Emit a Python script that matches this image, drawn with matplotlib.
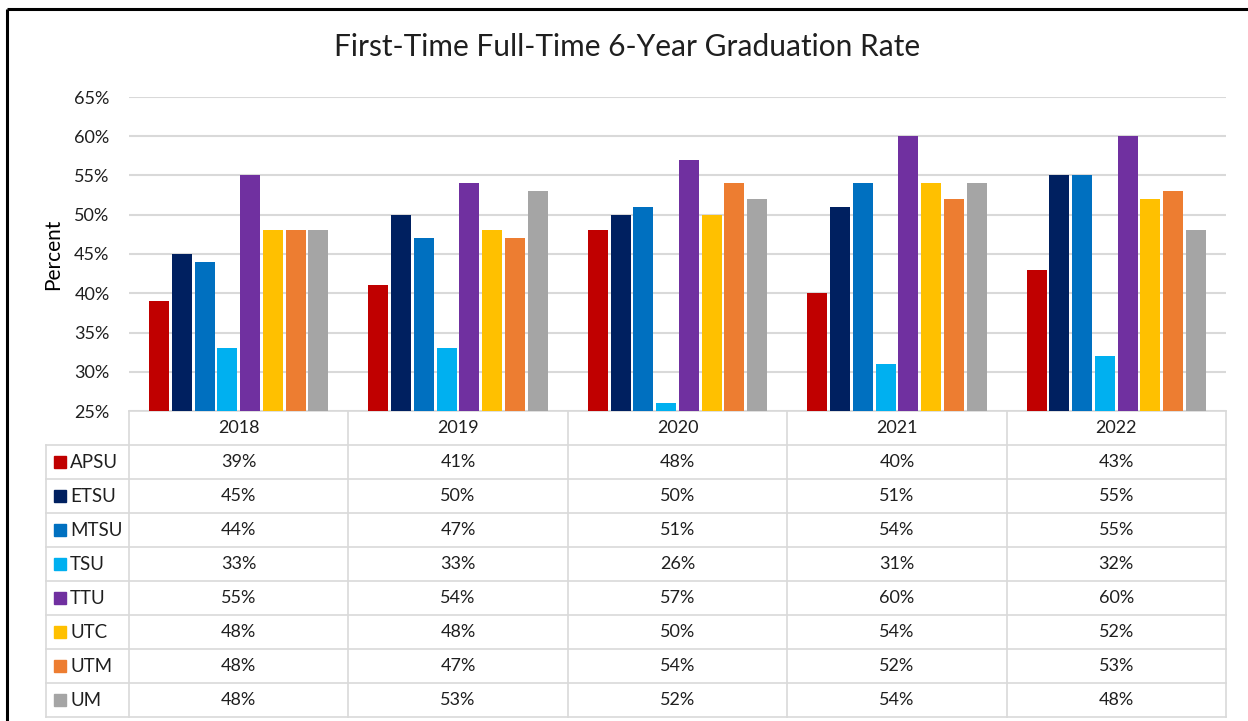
import matplotlib
matplotlib.use("Agg")
import matplotlib.pyplot as plt
import numpy as np

# ---------------- data ----------------
years = ['2018', '2019', '2020', '2021', '2022']
schools = ['APSU', 'ETSU', 'MTSU', 'TSU', 'TTU', 'UTC', 'UTM', 'UM']
apsu = [39, 41, 48, 40, 43]
etsu = [45, 50, 50, 51, 55]
mtsu = [44, 47, 51, 54, 55]
tsu = [33, 33, 26, 31, 32]
ttu = [55, 54, 57, 60, 60]
utc = [48, 48, 50, 54, 52]
utm = [48, 47, 54, 52, 53]
um = [48, 53, 52, 54, 48]
series = [apsu, etsu, mtsu, tsu, ttu, utc, utm, um]
colors = ['#C00000', '#002060', '#0070C0', '#00B0F0', '#7030A0',
          '#FFC000', '#ED7D31', '#A5A5A5']
yticks = [25, 30, 35, 40, 45, 50, 55, 60, 65]
title = 'First-Time Full-Time 6-Year Graduation Rate'

# ---------------- layout ----------------
plt.rcParams['font.family'] = ['Lato', 'DejaVu Sans']
W, H = 1248, 721
fig = plt.figure(figsize=(W / 100, H / 100), dpi=100)
fig.patch.set_facecolor('white')


def fx(x):
    return x / W


def fy(y):
    return 1 - y / H


grid_c = '#D9D9D9'
text_c = '#1F1F1F'

# overlay in pixel coordinates for frame and table
ov = fig.add_axes([0, 0, 1, 1])
ov.set_xlim(0, W)
ov.set_ylim(H, 0)
ov.axis('off')

# main chart axes
x_left, x_right, y_top, y_bot = 129, 1226, 97, 411
ax = fig.add_axes([fx(x_left), fy(y_bot), fx(x_right) - fx(x_left), fy(y_top) - fy(y_bot)])
ax.patch.set_alpha(0)
n = len(schools)
slot = 0.1037
bw = 0.091
x = np.arange(len(years))
for i, (vals, c) in enumerate(zip(series, colors)):
    ax.bar(x + (i - (n - 1) / 2) * slot, vals, width=bw, color=c, zorder=3,
           edgecolor='none')
ax.set_xlim(-0.5, len(years) - 0.5)
ax.set_ylim(yticks[0], yticks[-1])
ax.set_yticks(yticks)
ax.set_yticklabels([f'{t}%' for t in yticks], fontsize=13, color=text_c)
ax.tick_params(axis='y', length=0, pad=14)
ax.set_xticks([])
ax.grid(axis='y', color=grid_c, linewidth=1.5, zorder=0)
for s in ax.spines.values():
    s.set_visible(False)
ax.set_ylabel('Percent', fontsize=15, color='black', labelpad=8)

# title
fig.text(fx(627), fy(47), title, ha='center', va='center', fontsize=21.5, color=text_c)

# outer frame (top and left)
ov.plot([7, W], [9, 9], color='black', lw=2.2, solid_capstyle='butt')
ov.plot([7, 7], [9, H], color='black', lw=2.2, solid_capstyle='butt')

# data table
col_edges = np.linspace(x_left, x_right, len(years) + 1)
row_h = 34
hdr_top = y_bot
hdr_bot = hdr_top + row_h
tab_left = 46
rows_y = [hdr_bot + k * row_h for k in range(n + 1)]
lw_t = 1.2
ov.plot([x_left, x_right], [hdr_top, hdr_top], color=grid_c, lw=lw_t)
for yy in rows_y:
    ov.plot([tab_left, x_right], [yy, yy], color=grid_c, lw=lw_t)
ov.plot([tab_left, tab_left], [hdr_bot, rows_y[-1]], color=grid_c, lw=lw_t)
for xe in col_edges:
    ov.plot([xe, xe], [hdr_top, rows_y[-1]], color=grid_c, lw=lw_t)

centers = (col_edges[:-1] + col_edges[1:]) / 2
for j, yr in enumerate(years):
    ov.text(centers[j], (hdr_top + hdr_bot) / 2, yr, ha='center', va='center',
            fontsize=13, color=text_c)
for i, (name, vals, c) in enumerate(zip(schools, series, colors)):
    yc = (rows_y[i] + rows_y[i + 1]) / 2
    ov.add_patch(plt.Rectangle((54, yc - 6), 12, 12, color=c))
    ov.text(70, yc, name, ha='left', va='center', fontsize=13.5, color=text_c)
    for j, v in enumerate(vals):
        ov.text(centers[j], yc, f'{v}%', ha='center', va='center',
                fontsize=13, color=text_c)

fig.savefig('out.png', dpi=100, facecolor='white')
